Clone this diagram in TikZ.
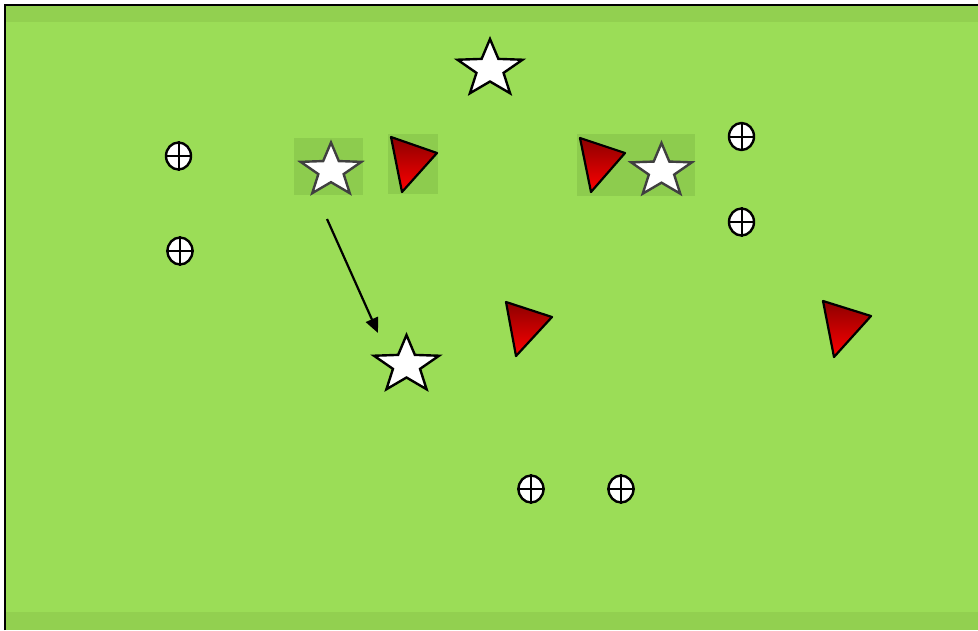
\documentclass[tikz,border=0pt]{standalone}
\usetikzlibrary{shapes.geometric,arrows.meta}
\definecolor{field}{RGB}{155,221,87}
\definecolor{strip}{RGB}{146,208,80}
\definecolor{patch}{RGB}{141,204,78}
\definecolor{darkred}{RGB}{140,0,0}
\begin{document}
\begin{tikzpicture}[x=1pt,y=-1pt,
  player/.style={star,star points=5,star point ratio=2.4,draw=black,fill=white,
    line width=2.4pt,line join=miter,inner sep=0pt,minimum size=60pt,xscale=1.14,transform shape},
  smallplayer/.style={player,minimum size=56pt,draw=black!75},
  marker/.style={ellipse,draw=black,fill=white,line width=2.4pt,inner sep=0pt,
    minimum width=25pt,minimum height=27pt},
  cross/.style={line width=2pt},
  cone/.style={draw=black,line width=2.2pt,line join=round,shade,
    top color=darkred,bottom color=red},
  patchbox/.style={fill=patch,draw=none},
  move/.style={line width=2.2pt,-{Triangle[length=15pt,width=13pt]}}]
\useasboundingbox (0,0) rectangle (978,630);
% field
\fill[white] (0,0) rectangle (978,630);
\fill[field] (5,5) rectangle (978,630);
\fill[strip] (6,6) rectangle (978,22);
\fill[strip] (6,612) rectangle (978,630);
\draw[line width=2pt] (5,630) -- (5,5) -- (978,5);
% background patches
\path[patchbox] (294,138) rectangle (363,195);
\path[patchbox] (388,134) rectangle (438,194);
\path[patchbox] (577,134) rectangle (695,196);
% stars
\node[player] (s1) at (490,69) {};
\node[smallplayer] (s2) at (331,170.5) {};
\node[smallplayer] (s3) at (661.5,171) {};
\node[player] (s4) at (406.5,365) {};
% cones
\path[cone] (391,137) -- (437,153) -- (402,192) -- cycle;
\path[cone] (580,138) -- (625,153) -- (591,192) -- cycle;
\path[cone] (506,302) -- (552,317) -- (516,356) -- cycle;
\path[cone] (823,301) -- (871,316) -- (834,357) -- cycle;
% markers
\foreach \n/\x/\y in {m1/178.5/156, m2/180/251, m3/741.5/136.5, m4/741.5/222, m5/531/489, m6/621/489}{
  \node[marker] (\n) at (\x,\y) {};
  \draw[cross] (\n.north) -- (\n.south);
  \draw[cross] (\n.west) -- (\n.east);
}
% movement arrow
\coordinate (a1) at (327,219);
\coordinate (a2) at (378,333);
\draw[move] (a1) -- (a2);
\end{tikzpicture}
\end{document}
